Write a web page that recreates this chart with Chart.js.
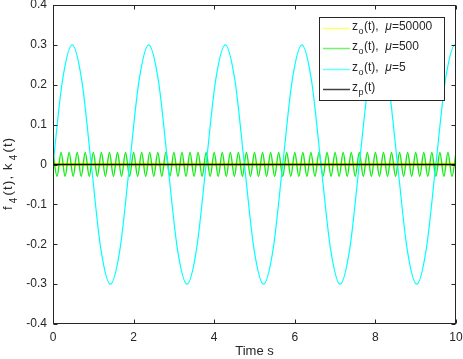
<!DOCTYPE html>
<html>
<head>
<meta charset="utf-8">
<script src="https://cdn.jsdelivr.net/npm/chart.js@4/dist/chart.umd.min.js"></script>
<style>
html,body{margin:0;padding:0;background:#fff;}
#wrap{width:463px;height:359px;position:relative;}
</style>
</head>
<body>
<div id="wrap"><canvas id="c" width="463" height="359"></canvas></div>
<script>
// ---- data ----
const xTicks = [0, 2, 4, 6, 8, 10];
const yTicks = [-0.4, -0.3, -0.2, -0.1, 0, 0.1, 0.2, 0.3, 0.4];

// z_o(t), mu=50000 : flat band at zero
const yellowT = [0, 10];
const yellowV = [0, 0];

// z_o(t), mu=500 : peaks/troughs every 0.1 s, amplitude ~0.03
const greenT = [0,0.1,0.2,0.3,0.4,0.5,0.6,0.7,0.8,0.9,1,1.1,1.2,1.3,1.4,1.5,1.6,1.7,1.8,1.9,
  2,2.1,2.2,2.3,2.4,2.5,2.6,2.7,2.8,2.9,3,3.1,3.2,3.3,3.4,3.5,3.6,3.7,3.8,3.9,
  4,4.1,4.2,4.3,4.4,4.5,4.6,4.7,4.8,4.9,5,5.1,5.2,5.3,5.4,5.5,5.6,5.7,5.8,5.9,
  6,6.1,6.2,6.3,6.4,6.5,6.6,6.7,6.8,6.9,7,7.1,7.2,7.3,7.4,7.5,7.6,7.7,7.8,7.9,
  8,8.1,8.2,8.3,8.4,8.5,8.6,8.7,8.8,8.9,9,9.1,9.2,9.3,9.4,9.5,9.6,9.7,9.8,9.9,10];
const greenV = [0.03,-0.03,0.03,-0.03,0.03,-0.03,0.03,-0.03,0.03,-0.03,
  0.03,-0.03,0.03,-0.03,0.03,-0.03,0.03,-0.03,0.03,-0.03,
  0.03,-0.03,0.03,-0.03,0.03,-0.03,0.03,-0.03,0.03,-0.03,
  0.03,-0.03,0.03,-0.03,0.03,-0.03,0.03,-0.03,0.03,-0.03,
  0.03,-0.03,0.03,-0.03,0.03,-0.03,0.03,-0.03,0.03,-0.03,
  0.03,-0.03,0.03,-0.03,0.03,-0.03,0.03,-0.03,0.03,-0.03,
  0.03,-0.03,0.03,-0.03,0.03,-0.03,0.03,-0.03,0.03,-0.03,
  0.03,-0.03,0.03,-0.03,0.03,-0.03,0.03,-0.03,0.03,-0.03,
  0.03,-0.03,0.03,-0.03,0.03,-0.03,0.03,-0.03,0.03,-0.03,
  0.03,-0.03,0.03,-0.03,0.03,-0.03,0.03,-0.03,0.03,-0.03,0.03];

// z_o(t), mu=5 : period ~1.9 s, amplitude ~0.3
const cyanT = [0,0.2375,0.475,0.7125,0.95,1.1875,1.425,1.6625,1.9,2.1375,2.375,2.6125,2.85,3.0875,3.325,3.5625,
  3.8,4.0375,4.275,4.5125,4.75,4.9875,5.225,5.4625,5.7,5.9375,6.175,6.4125,6.65,6.8875,7.125,7.3625,
  7.6,7.8375,8.075,8.3125,8.55,8.7875,9.025,9.2625,9.5,9.7375,9.975,10];
const cyanV = [0,0.212,0.3,0.212,0,-0.212,-0.3,-0.212,0,0.212,0.3,0.212,0,-0.212,-0.3,-0.212,
  0,0.212,0.3,0.212,0,-0.212,-0.3,-0.212,0,0.212,0.3,0.212,0,-0.212,-0.3,-0.212,
  0,0.212,0.3,0.212,0,-0.212,-0.3,-0.212,0,0.212,0.3,0.3];

// z_p(t)
const blackT = [0, 10];
const blackV = [0, 0];

const seriesNames = ['50000', '500', '5', 'p'];
const xTitle = 'Time s';
// y title pieces: [text, isSubscript]
const yTitleParts = [['f', false], ['4', true], ['(t), k', false], ['4', true], ['(t)', false]];

const toPts = (t, v) => t.map((x, i) => ({x: x, y: v[i]}));
const FONT = '"Liberation Sans", Arial, Helvetica, sans-serif';
const AX = '#262626';

const datasets = [
  {label: 'z_o(t), mu=' + seriesNames[0], data: toPts(yellowT, yellowV), borderColor: '#ffff00', borderWidth: 3.5, order: 4},
  {label: 'z_o(t), mu=' + seriesNames[1], data: toPts(greenT, greenV), borderColor: '#11ee11', borderWidth: 1.4, cubicInterpolationMode: 'monotone', order: 3},
  {label: 'z_o(t), mu=' + seriesNames[2], data: toPts(cyanT, cyanV), borderColor: '#00ffff', borderWidth: 1.2, cubicInterpolationMode: 'monotone', order: 2},
  {label: 'z_p(t)', data: toPts(blackT, blackV), borderColor: '#000000', borderWidth: 1.3, order: 1}
];
datasets.forEach(d => { d.pointRadius = 0; d.fill = false; });

const framePlugin = {
  id: 'frame',
  afterDatasetsDraw(chart) {
    const ctx = chart.ctx, a = chart.chartArea;
    const xs = chart.scales.x, ys = chart.scales.y;
    ctx.save();
    ctx.strokeStyle = AX; ctx.lineWidth = 1;
    const L = Math.round(a.left) + 0.5, R = Math.round(a.right) - 0.5;
    const T = Math.round(a.top) + 0.5, B = Math.round(a.bottom) - 0.5;
    ctx.strokeRect(L, T, R - L, B - T);
    ctx.beginPath();
    xTicks.forEach(v => {
      const p = Math.round(xs.getPixelForValue(v)) + 0.5;
      ctx.moveTo(p, B); ctx.lineTo(p, B - 4);
      ctx.moveTo(p, T); ctx.lineTo(p, T + 4);
    });
    yTicks.forEach(v => {
      const p = Math.round(ys.getPixelForValue(v)) + 0.5;
      ctx.moveTo(L, p); ctx.lineTo(L + 4, p);
      ctx.moveTo(R, p); ctx.lineTo(R - 4, p);
    });
    ctx.stroke();

    // legend box
    const bx = 319.5, by = 17.5, bw = 125, bh = 83;
    ctx.fillStyle = '#ffffff';
    ctx.fillRect(bx, by, bw, bh);
    ctx.strokeStyle = AX;
    ctx.strokeRect(bx, by, bw, bh);
    const rowY = [27.5, 48, 68.5, 89];
    ctx.textBaseline = 'middle';
    datasets.forEach((d, i) => {
      const y = Math.round(rowY[i]) + 0.5;
      ctx.strokeStyle = d.borderColor;
      ctx.globalAlpha = i === 3 ? 0.75 : 0.6;
      ctx.lineWidth = 1.5;
      ctx.beginPath(); ctx.moveTo(323, y); ctx.lineTo(350, y); ctx.stroke();
      ctx.globalAlpha = 1;
      ctx.fillStyle = AX;
      let x = 352;
      ctx.font = '12px ' + FONT;
      ctx.fillText('z', x, rowY[i] - 1); x += ctx.measureText('z').width + 0.5;
      ctx.font = '9px ' + FONT;
      const sub = i === 3 ? 'p' : 'o';
      ctx.fillText(sub, x, rowY[i] + 4); x += ctx.measureText(sub).width + 0.5;
      ctx.font = '12px ' + FONT;
      const t1 = i === 3 ? '(t)' : '(t),  ';
      ctx.fillText(t1, x, rowY[i] - 1); x += ctx.measureText(t1).width;
      if (i < 3) {
        ctx.font = 'italic 12px ' + FONT;
        ctx.fillText('\u03bc', x, rowY[i] - 1); x += ctx.measureText('\u03bc').width;
        ctx.font = '12px ' + FONT;
        ctx.fillText('=' + seriesNames[i], x, rowY[i] - 1);
      }
    });

    // y axis title with subscripts (rotated)
    ctx.translate(0, 0);
    ctx.rotate(-Math.PI / 2);
    ctx.textBaseline = 'alphabetic';
    ctx.textAlign = 'left';
    ctx.fillStyle = AX;
    let u = -210;
    yTitleParts.forEach(([txt, isSub]) => {
      ctx.font = (isSub ? '10px ' : '13px ') + FONT;
      try { ctx.letterSpacing = '1.2px'; } catch (e) {}
      if (isSub) u += 2;
      ctx.fillText(txt, u, isSub ? 16.5 : 11.5);
      u += ctx.measureText(txt).width + (isSub ? 1 : 0);
    });
    ctx.restore();
  }
};

new Chart(document.getElementById('c'), {
  type: 'line',
  data: {datasets: datasets},
  options: {
    responsive: false,
    animation: false,
    events: [],
    layout: {padding: {top: 5, right: 7, left: 0, bottom: 0}},
    plugins: {legend: {display: false}, tooltip: {enabled: false}},
    scales: {
      x: {
        type: 'linear', min: 0, max: 10,
        afterFit(s) { s.height = 35; s.paddingLeft = 0; s.paddingRight = 0; },
        afterBuildTicks(s) { s.ticks = xTicks.map(v => ({value: v})); },
        grid: {display: false, drawTicks: false},
        border: {display: false},
        ticks: {color: AX, font: {family: FONT, size: 12}, padding: 6, maxRotation: 0},
        title: {display: true, text: xTitle, color: AX, font: {family: FONT, size: 13}, padding: {top: 0, bottom: 0}}
      },
      y: {
        type: 'linear', min: -0.4, max: 0.4,
        afterFit(s) { s.width = 53; s.paddingTop = 0; s.paddingBottom = 0; },
        afterBuildTicks(s) { s.ticks = yTicks.map(v => ({value: v})); },
        grid: {display: false, drawTicks: false},
        border: {display: false},
        ticks: {color: AX, font: {family: FONT, size: 12}, padding: 6}
      }
    }
  },
  plugins: [framePlugin]
});
</script>
</body>
</html>
